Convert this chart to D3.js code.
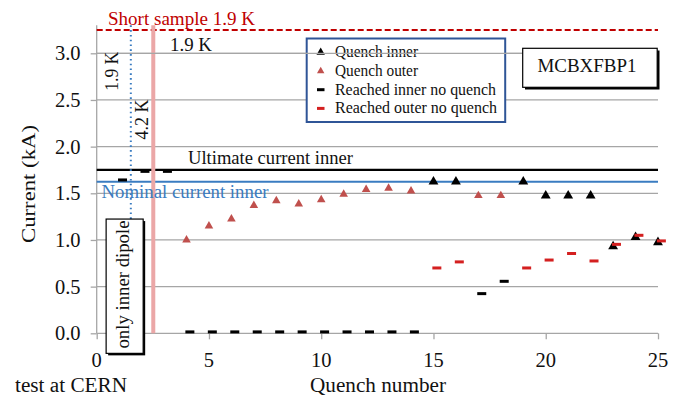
<!DOCTYPE html>
<html><head><meta charset="utf-8">
<script src="https://cdn.jsdelivr.net/npm/d3@7/dist/d3.min.js"></script>
<style>
html,body{margin:0;padding:0;background:#fff;}
svg{display:block;}
svg text{font-family:"Liberation Serif","Times New Roman",serif;}
</style></head>
<body>
<svg id="chart" width="686" height="399"></svg>
<script>
// ---- data ----
const quenchInnerX = [15, 16, 19, 20, 21, 22, 23, 24, 25];
const quenchInnerY = [1.625, 1.625, 1.625, 1.475, 1.475, 1.475, 0.93, 1.03, 0.975];
const quenchOuterX = [4, 5, 6, 7, 8, 9, 10, 11, 12, 13, 14, 17, 18];
const quenchOuterY = [1.0, 1.15, 1.225, 1.37, 1.42, 1.385, 1.43, 1.49, 1.54, 1.555, 1.525, 1.475, 1.475];
const reachedInnerX = [1, 2, 3, 4, 5, 6, 7, 8, 9, 10, 11, 12, 13, 14, 17, 18];
const reachedInnerY = [1.643, 1.735, 1.735, 0.015, 0.015, 0.015, 0.015, 0.015, 0.015, 0.015, 0.015, 0.015, 0.015, 0.015, 0.425, 0.557];
const reachedOuterX = [15, 16, 19, 20, 21, 22, 23, 24, 25];
const reachedOuterY = [0.70, 0.765, 0.70, 0.785, 0.855, 0.775, 0.953, 1.05, 0.99];
const shortSample = 3.25;
const ultimateCurrent = 1.75;
const nominalCurrent = 1.625;
const tempChange42K = 1.52;   // dotted blue line (4.2 K)
const tempChange19K = 2.52;   // red band (1.9 K)
const xTicks = [0, 5, 10, 15, 20, 25];
const yTicks = [0, 0.5, 1.0, 1.5, 2.0, 2.5, 3.0];
const legendLabels = ["Quench  inner", "Quench  outer", "Reached inner  no  quench", "Reached outer  no  quench"];

// ---- layout ----
const svg = d3.select("#chart");
const x = d3.scaleLinear().domain([0, 25]).range([96.7, 658]);
const y = d3.scaleLinear().domain([0, 3.3]).range([333.3, 25.3]);
const DASH_SHIFT = 0.15;
const GRID = "#a6a6a6", BLUE = "#3a7cc1", RED = "#c00000", PINK = "#c0504d", BAND = "#eba7a7";
const SERIF = '"Liberation Serif","Times New Roman",serif';

function txt(g, s, px, py, o = {}) {
  const t = g.append("text").attr("x", px).attr("y", py).text(s)
    .style("font-family", SERIF)
    .attr("font-size", o.size || 19).attr("fill", o.fill || "#111")
    .attr("text-anchor", o.anchor || "start");
  if (o.len) t.attr("textLength", o.len).attr("lengthAdjust", "spacingAndGlyphs");
  if (o.rot) t.attr("transform", `rotate(${o.rot},${px},${py})`);
  return t;
}

// gridlines
svg.append("g").selectAll("line").data(yTicks.slice(1)).join("line")
  .attr("x1", x(0)).attr("x2", x(25)).attr("y1", d => y(d)).attr("y2", d => y(d))
  .attr("stroke", GRID).attr("stroke-width", 1.3);

// axes (lines + ticks from d3 axes, labels as serif text)
const yAxis = svg.append("g").attr("transform", `translate(${x(0)},0)`)
  .call(d3.axisLeft(y).tickValues(yTicks).tickSize(6).tickFormat(""));
yAxis.select(".domain").attr("d", `M0,${y(0)}V${y(3.3)}`);
const xAxis = svg.append("g").attr("transform", `translate(0,${y(0)})`)
  .call(d3.axisBottom(x).tickValues(xTicks).tickSize(6).tickFormat(""));
xAxis.select(".domain").attr("d", `M${x(0)},0H${x(25)}`);
[xAxis, yAxis].forEach(a => a.selectAll(".domain,.tick line").attr("stroke", GRID).attr("stroke-width", 1.3));
const tl = svg.append("g");
yTicks.forEach(v => txt(tl, d3.format(".1f")(v), 80.5, y(v) + 7, { size: 20.5, anchor: "end" }));
xTicks.forEach(v => txt(tl, d3.format("d")(v), x(v), 366.5, { size: 20.5, anchor: "middle" }));

// reference lines
svg.append("line").attr("x1", x(0)).attr("x2", x(25)).attr("y1", y(shortSample)).attr("y2", y(shortSample))
  .attr("stroke", RED).attr("stroke-width", 2).attr("stroke-dasharray", "6,3");
svg.append("line").attr("x1", x(0)).attr("x2", x(25)).attr("y1", y(ultimateCurrent)).attr("y2", y(ultimateCurrent))
  .attr("stroke", "#000").attr("stroke-width", 2.2);
svg.append("line").attr("x1", x(0)).attr("x2", x(25)).attr("y1", y(nominalCurrent)).attr("y2", y(nominalCurrent))
  .attr("stroke", BLUE).attr("stroke-width", 2);
svg.append("line").attr("x1", x(tempChange42K)).attr("x2", x(tempChange42K)).attr("y1", y(3.3)).attr("y2", y(0))
  .attr("stroke", BLUE).attr("stroke-width", 2).attr("stroke-dasharray", "1.6,3.2");
svg.append("line").attr("x1", x(tempChange19K)).attr("x2", x(tempChange19K)).attr("y1", y(3.3)).attr("y2", y(0))
  .attr("stroke", BAND).attr("stroke-width", 4);

// "only inner dipole" box
const boxL = x(0.42), boxR = x(2.07), boxT = y(1.224), boxB = y(-0.215);
svg.append("rect").attr("x", boxL + 2).attr("y", boxT + 2).attr("width", boxR - boxL).attr("height", boxB - boxT).attr("fill", "#000");
svg.append("rect").attr("x", boxL).attr("y", boxT).attr("width", boxR - boxL).attr("height", boxB - boxT)
  .attr("fill", "#fff").attr("stroke", "#000").attr("stroke-width", 1.2);
txt(svg, "only inner dipole", 129, 348.5, { rot: -90, size: 18, len: 128 });

// markers
const tri = d3.symbol().type(d3.symbolTriangle);
svg.append("g").selectAll("path").data(quenchOuterX.map((d, i) => [d, quenchOuterY[i]])).join("path")
  .attr("d", tri.size(32)()).attr("transform", d => `translate(${x(d[0])},${y(d[1])})`).attr("fill", PINK);
svg.append("g").selectAll("rect").data(reachedInnerX.map((d, i) => [d, reachedInnerY[i]])).join("rect")
  .attr("x", d => x(d[0] + DASH_SHIFT) - 4.5).attr("y", d => y(d[1]) - 1.5).attr("width", 9).attr("height", 3).attr("fill", "#000");
svg.append("g").selectAll("path").data(quenchInnerX.map((d, i) => [d, quenchInnerY[i]])).join("path")
  .attr("d", tri.size(42)()).attr("transform", d => `translate(${x(d[0])},${y(d[1])})`).attr("fill", "#000");
svg.append("g").selectAll("rect").data(reachedOuterX.map((d, i) => [d, reachedOuterY[i]])).join("rect")
  .attr("x", d => x(d[0] + DASH_SHIFT) - 4.5).attr("y", d => y(d[1]) - 1.5).attr("width", 9).attr("height", 3).attr("fill", "#d42020");

// legend
const lg = svg.append("g");
lg.append("rect").attr("x", 306.7).attr("y", 38.5).attr("width", 198.5).attr("height", 83.5)
  .attr("fill", "#fff").attr("stroke", "#2f5597").attr("stroke-width", 2);
svg.append("line").attr("x1", x(0)).attr("x2", x(25)).attr("y1", y(3.0)).attr("y2", y(3.0))
  .attr("stroke", GRID).attr("stroke-width", 1.3);
legendLabels.forEach((lab, i) => {
  const by = 57.3 + i * 18.7;
  if (i < 2) lg.append("path").attr("d", tri.size(i === 0 ? 30 : 24)())
    .attr("transform", `translate(320.7,${by - 5})`).attr("fill", i === 0 ? "#000" : PINK);
  else lg.append("rect").attr("x", 317).attr("y", by - 6.5).attr("width", 7.5).attr("height", 3)
    .attr("fill", i === 2 ? "#000" : "#d42020");
  txt(lg, lab, 335, by, { size: 16, len: [83, 83, 161, 162][i] });
});

// MCBXFBP1 box
svg.append("rect").attr("x", 525).attr("y", 50.5).attr("width", 134.5).attr("height", 39).attr("fill", "#000");
svg.append("rect").attr("x", 522.7).attr("y", 48.3).attr("width", 134.5).attr("height", 39)
  .attr("fill", "#fff").attr("stroke", "#000").attr("stroke-width", 1.2);
txt(svg, "MCBXFBP1", 587, 72, { size: 19, anchor: "middle", len: 99 });

// annotations
txt(svg, "Short sample 1.9 K", 108, 24.5, { size: 19.5, fill: RED, len: 147 });
txt(svg, "1.9 K", 170, 50.5, { size: 19, len: 42 });
txt(svg, "1.9 K", 118, 90.7, { size: 19, rot: -90, len: 39 });
txt(svg, "4.2 K", 148.3, 139.5, { size: 19, rot: -90, len: 40 });
txt(svg, "Ultimate  current  inner", 188, 163.5, { size: 19, len: 165 });
txt(svg, "Nominal  current  inner", 101.5, 198, { size: 19, fill: BLUE, len: 167 });

// axis titles
txt(svg, "Current (kA)", 35, 184, { size: 19.5, rot: -90, anchor: "middle", len: 118 });
txt(svg, "Quench  number", 310, 391.5, { size: 20, len: 136 });
txt(svg, "test at CERN", 15, 391.5, { size: 20, len: 112 });
</script>
</body></html>
